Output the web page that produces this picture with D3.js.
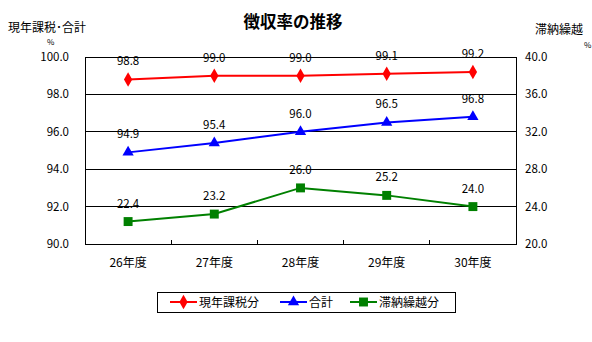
<!DOCTYPE html>
<html><head><meta charset="utf-8">
<script src="https://cdn.jsdelivr.net/npm/d3@7"></script>
<style>body{margin:0;background:#fff;}text{font-family:"Noto Sans CJK JP","Noto Sans",sans-serif;}</style>
</head><body><svg id="c" width="592" height="342"></svg>
<script>
const categories = ["26年度","27年度","28年度","29年度","30年度"];
const currentYear = [98.8, 99.0, 99.0, 99.1, 99.2];
const total = [94.9, 95.4, 96.0, 96.5, 96.8];
const arrears = [22.4, 23.2, 26.0, 25.2, 24.0];
const leftTicks = [90, 92, 94, 96, 98, 100];
const rightTicks = [20, 24, 28, 32, 36, 40];
const seriesNames = ["現年課税分","合計","滞納繰越分"];

const svg = d3.select("#c");
const L = 85, R = 516, T = 57, B = 244;
const x = d3.scaleBand().domain(categories).range([L, R]);
const yL = d3.scaleLinear().domain([90, 100]).range([B, T]);
const yR = d3.scaleLinear().domain([20, 40]).range([B, T]);
const fs = 12, fn = 11.5;

// gridlines
svg.append("g").selectAll("line").data(leftTicks.slice(1, -1)).join("line")
  .attr("x1", L).attr("x2", R).attr("y1", d => yL(d)).attr("y2", d => yL(d))
  .attr("stroke", "#000").attr("stroke-width", 1).attr("shape-rendering", "crispEdges");
// frame
svg.append("rect").attr("x", L).attr("y", T).attr("width", R - L).attr("height", B - T)
  .attr("fill", "none").attr("stroke", "#000").attr("shape-rendering", "crispEdges");
// category boundary ticks
svg.append("g").selectAll("line").data(categories.slice(1)).join("line")
  .attr("x1", d => x(d)).attr("x2", d => x(d)).attr("y1", B).attr("y2", B - 4)
  .attr("stroke", "#000").attr("shape-rendering", "crispEdges");

// axis labels
svg.append("g").selectAll("text").data(leftTicks).join("text")
  .attr("x", 69).attr("y", d => yL(d) + 4).attr("text-anchor", "end")
  .attr("font-size", fn).text(d => d.toFixed(1));
svg.append("g").selectAll("text").data(rightTicks).join("text")
  .attr("x", 525).attr("y", d => yR(d) + 4).attr("text-anchor", "start")
  .attr("font-size", fn).text(d => d.toFixed(1));
svg.append("g").selectAll("text").data(categories).join("text")
  .attr("x", d => x(d) + x.bandwidth() / 2).attr("y", 267).attr("text-anchor", "middle")
  .attr("font-size", fs).text(d => d);

// titles
svg.append("text").attr("x", 293).attr("y", 28).attr("text-anchor", "middle")
  .attr("font-size", 16.5).attr("font-weight", "bold").text("徴収率の推移");
svg.append("text").attr("x", 8).attr("y", 32).attr("font-size", fs).text("現年課税･合計");
svg.append("text").attr("x", 47).attr("y", 45).attr("font-size", 8).text("%");
svg.append("text").attr("x", 535).attr("y", 34).attr("font-size", fs).text("滞納繰越");
svg.append("text").attr("x", 584).attr("y", 48).attr("font-size", 8).text("%");

const series = [
  {name: seriesNames[0], data: currentYear, y: yL, color: "#ff0000", sym: d3.symbolDiamond, size: 60},
  {name: seriesNames[1], data: total, y: yL, color: "#0000ff", sym: d3.symbolTriangle, size: 55},
  {name: seriesNames[2], data: arrears, y: yR, color: "#008000", sym: d3.symbolSquare, size: 80}
];

series.forEach(s => {
  const pts = s.data.map((v, i) => [x(categories[i]) + x.bandwidth() / 2, s.y(v)]);
  svg.append("path").attr("d", d3.line()(pts)).attr("fill", "none")
    .attr("stroke", s.color).attr("stroke-width", 2);
  svg.append("g").selectAll("path").data(pts).join("path")
    .attr("transform", d => `translate(${d[0]},${d[1]})`)
    .attr("d", d3.symbol(s.sym, s.size)).attr("fill", s.color);
  svg.append("g").selectAll("text").data(s.data).join("text")
    .attr("x", (d, i) => pts[i][0]).attr("y", (d, i) => pts[i][1] - 14)
    .attr("text-anchor", "middle").attr("font-size", fn).text(d => d.toFixed(1));
});

// legend
svg.append("rect").attr("x", 157).attr("y", 292).attr("width", 298).attr("height", 20)
  .attr("fill", "#fff").attr("stroke", "#000").attr("shape-rendering", "crispEdges");
const lx = [170, 280, 350];
series.forEach((s, i) => {
  const g = svg.append("g").attr("transform", `translate(${lx[i]},302)`);
  g.append("line").attr("x1", 0).attr("x2", 27).attr("stroke", s.color).attr("stroke-width", 2);
  g.append("path").attr("transform", "translate(13.5,0)").attr("d", d3.symbol(s.sym, s.size)).attr("fill", s.color);
  g.append("text").attr("x", 29).attr("y", 4.5).attr("font-size", fs).text(s.name);
});
</script></body></html>
